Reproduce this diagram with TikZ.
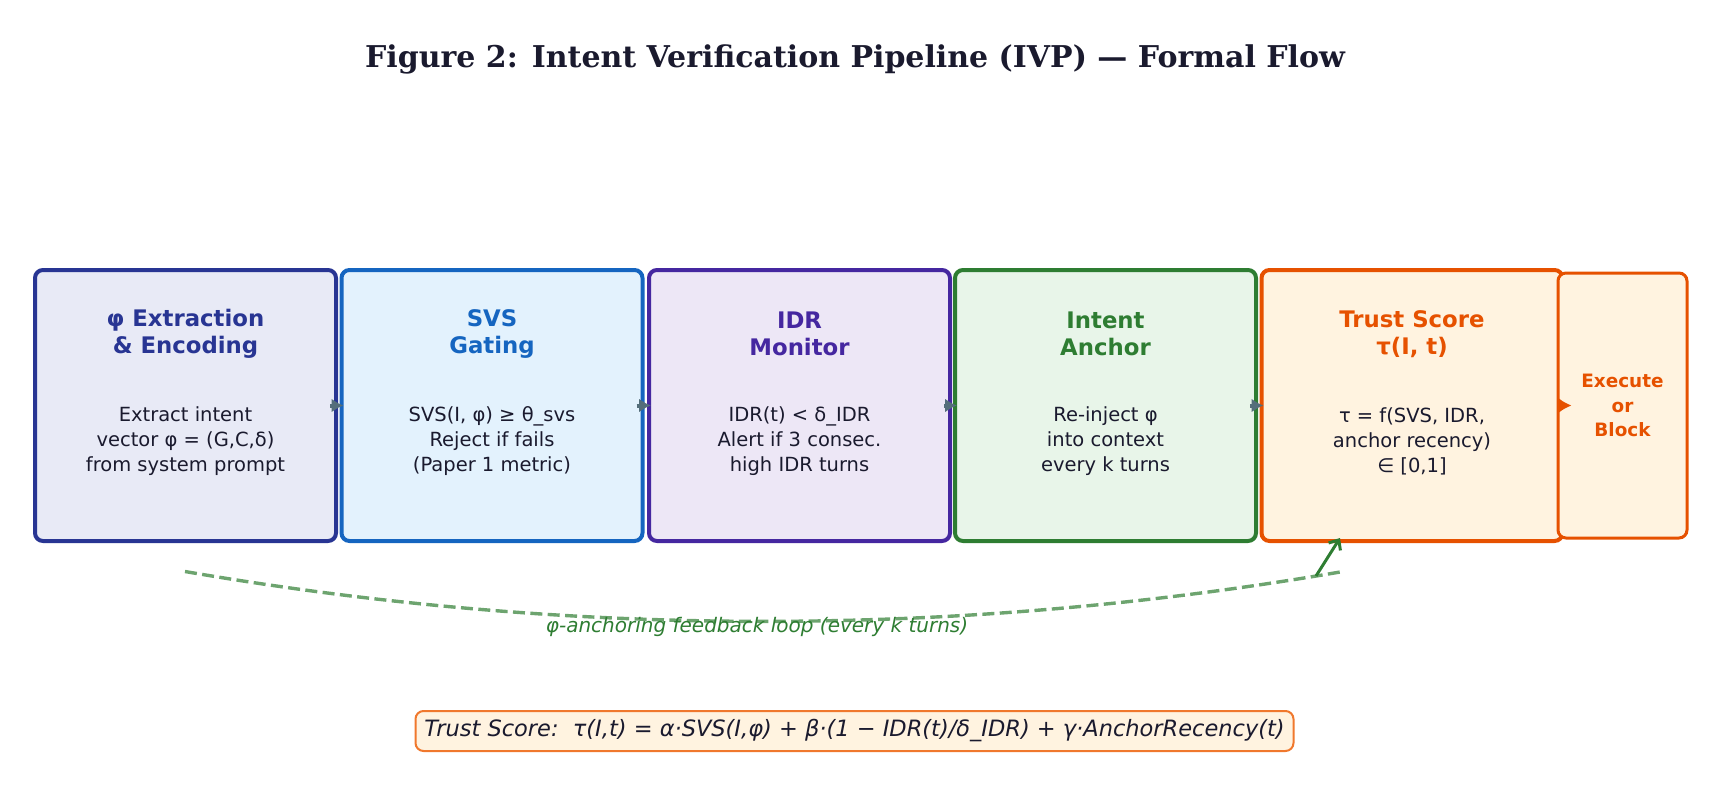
\documentclass[tikz,border=0pt]{standalone}
\usepackage{fontspec}
\setmainfont{DejaVu Sans}
\newfontfamily\titlefont{DejaVu Serif}
\usetikzlibrary{arrows.meta}

\begin{document}
\begin{tikzpicture}[x=0.5pt, y=-0.5pt]
    % 定义颜色
    \definecolor{inkdark}{HTML}{1A1A2E}
    \definecolor{extrline}{HTML}{283593}
    \definecolor{extrfill}{HTML}{E8EAF6}
    \definecolor{svsline}{HTML}{1565C0}
    \definecolor{svsfill}{HTML}{E3F2FD}
    \definecolor{idrline}{HTML}{4527A0}
    \definecolor{idrfill}{HTML}{EDE7F6}
    \definecolor{anchline}{HTML}{2E7D32}
    \definecolor{anchfill}{HTML}{E8F5E9}
    \definecolor{trustline}{HTML}{E65100}
    \definecolor{trustfill}{HTML}{FFF3E0}
    \definecolor{flowgrey}{HTML}{546E7A}
    \definecolor{loopgreen}{HTML}{6DA46F}
    \definecolor{formline}{HTML}{F0782D}

    % 画布大小（像素坐标，y 轴向下）
    \useasboundingbox (0,0) rectangle (1710,798);

    % --- 设置全局样式 ---
    % 阶段方框
    \tikzset{StageStyle/.style = {
        rectangle,              % 形状：矩形
        rounded corners=4pt,    % 圆角
        line width=2pt,         % 边框粗细
        minimum width=150.5pt,
        minimum height=135.5pt,
        inner sep=0pt
    }}
    % 方框标题
    \tikzset{HeadStyle/.style = {
        align=center, inner sep=0pt,
        font=\fontsize{11.4}{13.3}\selectfont\bfseries
    }}
    % 方框正文
    \tikzset{BodyStyle/.style = {
        align=center, inner sep=0pt, text=inkdark,
        font=\fontsize{9.75}{12.5}\selectfont
    }}
    % 阶段之间的箭头
    \tikzset{FlowStyle/.style = {
        -{Latex[length=6pt,width=7pt]},
        line width=2pt, color=flowgrey
    }}
    % 反馈回路
    \tikzset{LoopStyle/.style = {
        line width=1.7pt, color=loopgreen,
        dash pattern=on 6pt off 2.7pt
    }}

    % --- 标题 ---
    \node[text=inkdark, font=\titlefont\bfseries\fontsize{15}{18}\selectfont] (title) at (855,59)
        {Figure 2: Intent Verification Pipeline (IVP) — Formal Flow};

    % --- 定义节点 ---
    \node[StageStyle, draw=extrline, fill=extrfill] (extr) at (185.5,405.5) {};
    \node[StageStyle, draw=svsline, fill=svsfill] (svs) at (492,405.5) {};
    \node[StageStyle, draw=idrline, fill=idrfill] (idr) at (799.5,405.5) {};
    \node[StageStyle, draw=anchline, fill=anchfill] (anch) at (1105.5,405.5) {};
    \node[StageStyle, draw=trustline, fill=trustfill] (trust) at (1412,405.5) {};
    \node[StageStyle, draw=trustline, fill=trustfill, line width=1.5pt,
          minimum width=64.5pt, minimum height=132.5pt] (exec) at (1622.5,405.5) {};

    % 标题文字
    \node[HeadStyle, text=extrline] (extrhead) at (185.5,334) {φ Extraction\\\& Encoding};
    \node[HeadStyle, text=svsline] (svshead) at (492,334) {SVS\\Gating};
    \node[HeadStyle, text=idrline] (idrhead) at (799.5,334) {IDR\\Monitor};
    \node[HeadStyle, text=anchline] (anchhead) at (1105.5,334) {Intent\\Anchor};
    \node[HeadStyle, text=trustline] (trusthead) at (1412,334) {Trust Score\\τ(I, t)};

    % 正文文字
    \node[BodyStyle] (extrbody) at (185.5,441.5)
        {Extract intent\\vector φ = (G,C,δ)\\from system prompt};
    \node[BodyStyle] (svsbody) at (492,441.5)
        {SVS(I, φ) ≥ θ\_svs\\Reject if fails\\(Paper 1 metric)};
    \node[BodyStyle] (idrbody) at (799.5,441.5)
        {IDR(t) < δ\_IDR\\Alert if 3 consec.\\high IDR turns};
    \node[BodyStyle] (anchbody) at (1105.5,441.5)
        {Re-inject φ\\into context\\every k turns};
    \node[BodyStyle] (trustbody) at (1412,441.5)
        {τ = f(SVS, IDR,\\anchor recency)\\∈ [0,1]};
    \node[align=center, inner sep=0pt, text=trustline,
          font=\fontsize{9.2}{12.25}\selectfont\bfseries] (execbody) at (1622.5,405.7)
        {Execute\\or\\Block};

    % --- 定义连线 ---
    \draw[FlowStyle] ([xshift=-4pt]extr.east) -- ([xshift=2pt]svs.west);
    \draw[FlowStyle] ([xshift=-4pt]svs.east) -- ([xshift=2pt]idr.west);
    \draw[FlowStyle] ([xshift=-4pt]idr.east) -- ([xshift=2pt]anch.west);
    \draw[FlowStyle] ([xshift=-4pt]anch.east) -- ([xshift=2pt]trust.west);
    \draw[FlowStyle, color=trustline, -{Latex[length=7pt,width=8.5pt]}]
        ([xshift=-3.5pt]trust.east) -- ([xshift=7.5pt]exec.west);

    % 反馈回路（虚线曲线）
    \coordinate (fbstart) at (185,571.5);
    \coordinate (fbend) at (1343,571.5);
    \draw[LoopStyle] (fbstart) .. controls (571,638) and (957,638) .. (fbend);
    \coordinate (fbtail) at (1316,576);
    \coordinate (fbhit) at (1340,538);
    \draw[-{Straight Barb[length=4pt,width=7pt]}, line width=1.5pt, color=anchline] (fbtail) -- (fbhit);
    \node[text=anchline, font=\fontsize{10}{12}\selectfont\itshape] (fblabel) at (757,627)
        {φ-anchoring feedback loop (every k turns)};

    % --- 公式 ---
    \node[draw=formline, fill=trustfill, line width=1pt, rounded corners=4pt,
          minimum width=439pt, minimum height=20pt, inner xsep=2pt, text=inkdark,
          font=\fontsize{11.25}{13}\selectfont\itshape] (formula) at (854.5,731)
        {Trust Score:\ \ τ(I,t) = α·SVS(I,φ) + β·(1 − IDR(t)/δ\_IDR) + γ·AnchorRecency(t)};

  \end{tikzpicture}
\end{document}
